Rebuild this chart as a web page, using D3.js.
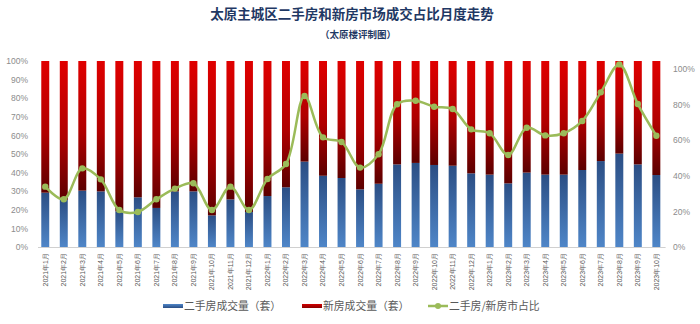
<!DOCTYPE html>
<html><head><meta charset="utf-8">
<script src="https://cdn.jsdelivr.net/npm/d3@7"></script>
<style>
html,body{margin:0;padding:0;background:#fff;}
svg{display:block;font-family:"Noto Sans CJK SC","Noto Sans",sans-serif;}
</style></head>
<body><svg id="c" width="700" height="324"></svg>
<script>
const months = ["2021年1月","2021年2月","2021年3月","2021年4月","2021年5月","2021年6月","2021年7月","2021年8月","2021年9月","2021年10月","2021年11月","2021年12月",
"2022年1月","2022年2月","2022年3月","2022年4月","2022年5月","2022年6月","2022年7月","2022年8月","2022年9月","2022年10月","2022年11月","2022年12月",
"2023年1月","2023年2月","2023年3月","2023年4月","2023年5月","2023年6月","2023年7月","2023年8月","2023年9月","2023年10月"];
// share of second-hand housing transactions (%)
const secondShare = [29.2,25.3,30.3,29.9,19.2,26.7,21.0,29.9,29.9,17.0,25.6,18.8,
27.4,32.1,45.9,38.3,37.1,31.0,34.0,44.4,45.2,44.1,43.7,39.6,
38.9,34.2,40.0,38.9,38.9,41.4,46.2,50.2,44.4,38.7];
// share of new housing transactions (%)
const newShare = secondShare.map(v => +(100 - v).toFixed(1));
// second-hand / new ratio (%)
const ratio = [33.9,26.8,44.2,38.0,20.8,19.7,26.8,32.8,35.8,20.8,33.9,20.8,
38.2,46.6,84.8,61.6,59.0,44.6,52.1,80.2,82.2,78.8,77.5,66.1,
63.9,51.7,67.0,62.7,63.9,70.8,86.9,102.6,80.3,62.5];
const leftTicks = [0,10,20,30,40,50,60,70,80,90,100];
const rightTicks = [0,20,40,60,80,100];
const legendLabels = ["二手房成交量（套）","新房成交量（套）","二手房/新房市占比"];
const title = "太原主城区二手房和新房市场成交占比月度走势";
const subtitle = "（太原楼评制图）";

const svg = d3.select("#c");
const defs = svg.append("defs");
const gb = defs.append("linearGradient").attr("id","gBlue").attr("x1",0).attr("y1",0).attr("x2",0).attr("y2",1);
gb.append("stop").attr("offset","0%").attr("stop-color","#2b4e84");
gb.append("stop").attr("offset","100%").attr("stop-color","#4f86c8");
const gr = defs.append("linearGradient").attr("id","gRed").attr("x1",0).attr("y1",0).attr("x2",0).attr("y2",1);
gr.append("stop").attr("offset","0%").attr("stop-color","#e00000");
gr.append("stop").attr("offset","55%").attr("stop-color","#b00000");
gr.append("stop").attr("offset","100%").attr("stop-color","#5c0000");
const gbl = defs.append("linearGradient").attr("id","gBlueL").attr("x1",0).attr("y1",0).attr("x2",0).attr("y2",1);
gbl.append("stop").attr("offset","0%").attr("stop-color","#4f86c8");
gbl.append("stop").attr("offset","100%").attr("stop-color","#2b4e84");
const grl = defs.append("linearGradient").attr("id","gRedL").attr("x1",0).attr("y1",0).attr("x2",0).attr("y2",1);
grl.append("stop").attr("offset","0%").attr("stop-color","#d00000");
grl.append("stop").attr("offset","100%").attr("stop-color","#8a0000");

const x = d3.scaleBand().domain(months).range([36,665.6]).paddingInner(0.57).paddingOuter(0.285);
const yL = d3.scaleLinear().domain([0,100]).range([247,61]);
const yR = d3.scaleLinear().domain([0,104.5]).range([247,61]);

// title
svg.append("text").attr("x",352).attr("y",19).attr("text-anchor","middle")
  .attr("font-size",13.5).attr("font-weight","bold").attr("fill","#1f3864").text(title);
svg.append("text").attr("x",358).attr("y",38).attr("text-anchor","middle")
  .attr("font-size",9.5).attr("font-weight","bold").attr("fill","#1f3864").text(subtitle);

// bars
const bars = svg.append("g");
bars.selectAll("rect.b").data(months).join("rect").attr("class","b")
  .attr("x",d=>x(d)).attr("width",x.bandwidth())
  .attr("y",(d,i)=>yL(secondShare[i])).attr("height",(d,i)=>yL(0)-yL(secondShare[i]))
  .attr("fill","url(#gBlue)");
bars.selectAll("rect.r").data(months).join("rect").attr("class","r")
  .attr("x",d=>x(d)).attr("width",x.bandwidth())
  .attr("y",(d,i)=>yL(secondShare[i]+newShare[i])).attr("height",(d,i)=>yL(secondShare[i])-yL(secondShare[i]+newShare[i]))
  .attr("fill","url(#gRed)");

// left axis
const axL = svg.append("g").attr("transform","translate(34,0)")
  .call(d3.axisLeft(yL).tickValues(leftTicks).tickFormat(d=>d+"%").tickSize(0).tickPadding(6));
axL.select(".domain").remove();
axL.selectAll("text").attr("font-size",8.5).attr("fill","#8c8c8c").attr("font-family","Liberation Sans, sans-serif");

// right axis
const axR = svg.append("g").attr("transform","translate(667,0)")
  .call(d3.axisRight(yR).tickValues(rightTicks).tickFormat(d=>d+"%").tickSize(0).tickPadding(6));
axR.select(".domain").remove();
axR.selectAll("text").attr("font-size",8.5).attr("fill","#8c8c8c").attr("font-family","Liberation Sans, sans-serif");

// bottom axis
const axB = svg.append("g").attr("transform","translate(0,247)")
  .call(d3.axisBottom(x).tickSize(0).tickPadding(6));
axB.select(".domain").attr("stroke","#d0d0d0").attr("d","M38,0.5H665.6");
axB.selectAll("text").attr("font-size",7).attr("fill","#595959")
  .attr("transform","rotate(-90)").attr("text-anchor","end")
  .attr("x",-6).attr("y",0).attr("dy","0.35em");

// line
const line = d3.line().x((d,i)=>x(months[i])+x.bandwidth()/2).y(d=>yR(d)).curve(d3.curveCatmullRom.alpha(0.5));
svg.append("path").datum(ratio).attr("d",line).attr("fill","none").attr("stroke","#9bbb59").attr("stroke-width",2.5);
svg.append("g").selectAll("circle").data(ratio).join("circle")
  .attr("cx",(d,i)=>x(months[i])+x.bandwidth()/2).attr("cy",d=>yR(d)).attr("r",3.2).attr("fill","#9bbb59");

// legend
const lg = svg.append("g");
const ly = 306;
lg.append("rect").attr("x",163).attr("y",ly-2).attr("width",20).attr("height",4).attr("fill","url(#gBlueL)");
lg.append("text").attr("x",184).attr("y",ly).attr("dy","0.35em").attr("font-size",10.8).attr("fill","#595959").text(legendLabels[0]);
lg.append("rect").attr("x",302).attr("y",ly-2).attr("width",20).attr("height",4).attr("fill","url(#gRedL)");
lg.append("text").attr("x",323).attr("y",ly).attr("dy","0.35em").attr("font-size",10.8).attr("fill","#595959").text(legendLabels[1]);
lg.append("line").attr("x1",428).attr("x2",448).attr("y1",ly).attr("y2",ly).attr("stroke","#9bbb59").attr("stroke-width",2.5);
lg.append("circle").attr("cx",438).attr("cy",ly).attr("r",3).attr("fill","#9bbb59");
lg.append("text").attr("x",449).attr("y",ly).attr("dy","0.35em").attr("font-size",10.8).attr("fill","#595959").text(legendLabels[2]);
</script></body></html>
